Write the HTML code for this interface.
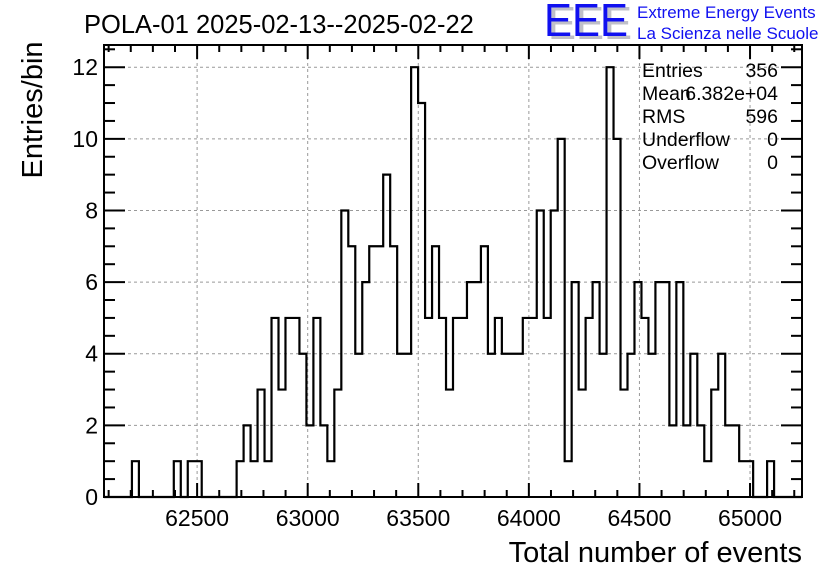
<!DOCTYPE html>
<html><head><meta charset="utf-8"><style>
html,body{margin:0;padding:0;background:#fff;}
svg{display:block;font-family:"Liberation Sans",sans-serif;}
</style></head><body>
<svg id="c" width="836" height="572" viewBox="0 0 836 572">
<rect width="836" height="572" fill="#fff"/>
<text x="84" y="33" font-size="25.5">POLA-01 2025-02-13--2025-02-22</text>
<g>
<text x="548" y="39" font-size="46" fill="#c0c0c8" textLength="84" lengthAdjust="spacingAndGlyphs">EEE</text>
<text x="544" y="36" font-size="46" fill="#1010f0" textLength="84" lengthAdjust="spacingAndGlyphs">EEE</text>
<text x="637" y="18" font-size="17" fill="#1010f0">Extreme Energy Events</text>
<text x="637" y="39" font-size="17" fill="#1010f0">La Scienza nelle Scuole</text>
</g>
<g id="grid"></g>
<g id="axes"></g>
<path id="hist" fill="none" stroke="#000" stroke-width="2.2"/>
<rect x="104" y="45" width="698" height="452" fill="none" stroke="#000" stroke-width="2"/>
<g font-size="19.5">
<text x="642" y="77">Entries</text><text x="778" y="77" text-anchor="end">356</text>
<text x="642" y="100">Mean</text><text x="778" y="100" text-anchor="end">6.382e+04</text>
<text x="642" y="123">RMS</text><text x="778" y="123" text-anchor="end">596</text>
<text x="642" y="146">Underflow</text><text x="778" y="146" text-anchor="end">0</text>
<text x="642" y="169">Overflow</text><text x="778" y="169" text-anchor="end">0</text>
</g>
<text x="802" y="562" font-size="29" text-anchor="end">Total number of events</text>
<text transform="translate(42,110) rotate(-90)" font-size="29" text-anchor="middle">Entries/bin</text>
</svg>
<script>
const binCounts = [0,0,0,0,1,0,0,0,0,0,1,0,1,1,0,0,0,0,0,1,
2,1,3,1,5,3,5,5,4,2,5,2,1,3,8,7,4,6,7,7,
9,7,4,4,12,11,5,7,5,3,5,5,6,6,7,4,5,4,4,4,
5,5,8,5,8,10,1,6,3,5,6,4,12,10,3,4,6,5,4,6,
6,2,6,2,4,2,1,3,4,2,2,1,1,0,0,1,0,0,0,0];
const xRange = [62079, 65235];
const yRange = [0, 12.62];
const xTickLabels = [62500, 63000, 63500, 64000, 64500, 65000];
const yTickLabels = [0, 2, 4, 6, 8, 10, 12];

const L=104,R=802,T=45,B=497;
const sx=v=>L+(v-xRange[0])/(xRange[1]-xRange[0])*(R-L);
const sy=v=>B-(v-yRange[0])/(yRange[1]-yRange[0])*(B-T);
const NS='http://www.w3.org/2000/svg';
function mk(tag,attrs,parent){const e=document.createElementNS(NS,tag);for(const k in attrs)e.setAttribute(k,attrs[k]);parent.appendChild(e);return e;}
const grid=document.getElementById('grid'), axes=document.getElementById('axes');
xTickLabels.forEach(v=>{const l=mk('line',{x1:sx(v),x2:sx(v),y1:T,y2:B,stroke:'#999','stroke-dasharray':'3,3','stroke-width':1},grid);

});
yTickLabels.forEach(v=>{if(v===0)return;const l=mk('line',{x1:L,x2:R,y1:sy(v),y2:sy(v),stroke:'#999','stroke-dasharray':'3,3','stroke-width':1},grid);

});
for(let v=Math.ceil(xRange[0]/100)*100; v<=xRange[1]; v+=100){
  const major=v%500===0, len=major?14:7, x=sx(v);
  mk('line',{x1:x,x2:x,y1:B,y2:B-len,stroke:'#000','stroke-width':2},axes);
  mk('line',{x1:x,x2:x,y1:T,y2:T+len,stroke:'#000','stroke-width':2},axes);
}
xTickLabels.forEach(v=>{const t=mk('text',{x:sx(v),y:526,'font-size':23,'text-anchor':'middle'},axes);t.textContent=v;

});
for(let v=0; v<=yRange[1]; v+=0.5){
  const major=v%2===0, len=major?21:11, y=sy(v);
  mk('line',{x1:L,x2:L+len,y1:y,y2:y,stroke:'#000','stroke-width':2},axes);
  mk('line',{x1:R,x2:R-len,y1:y,y2:y,stroke:'#000','stroke-width':2},axes);
}
yTickLabels.forEach(v=>{const t=mk('text',{x:98,y:sy(v)+8,'font-size':23,'text-anchor':'end'},axes);t.textContent=v;

});
const n=binCounts.length,w=(xRange[1]-xRange[0])/n;
let d='M'+sx(xRange[0])+','+sy(0);
binCounts.forEach((c,i)=>{const x0=sx(xRange[0]+i*w),x1=sx(xRange[0]+(i+1)*w);d+=' L'+x0+','+sy(c)+' L'+x1+','+sy(c);});
d+=' L'+sx(xRange[1])+','+sy(0);
document.getElementById('hist').setAttribute('d',d);
</script>
</body></html>
